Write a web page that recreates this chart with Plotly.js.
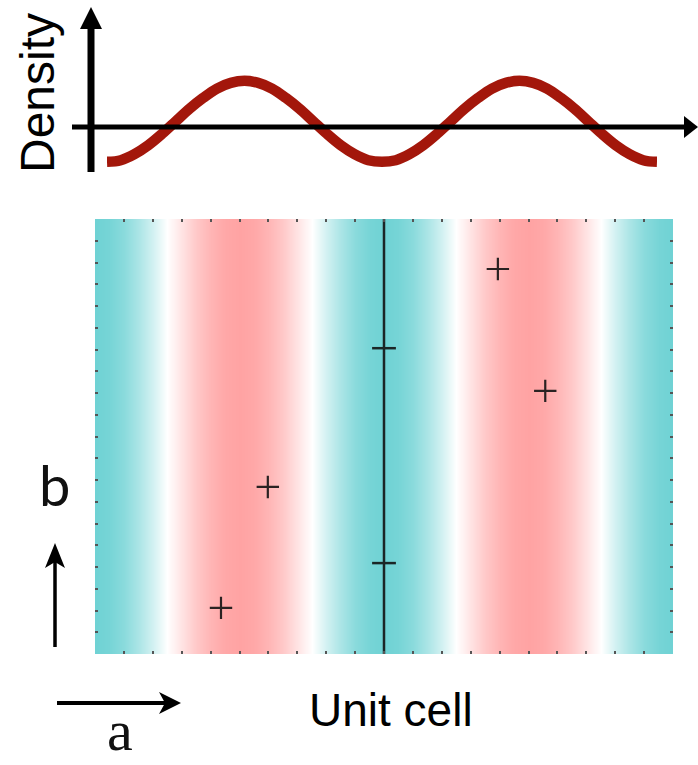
<!DOCTYPE html>
<html><head><meta charset="utf-8">
<script src="https://cdn.plot.ly/plotly-3.0.1.min.js"></script>
<style>html,body{margin:0;padding:0;background:#fff}#chart{width:698px;height:765px}</style>
</head><body><div id="chart"></div>
<script>
// ---------- data ----------
// fractional coordinate along a (0..1) for the unit-cell columns
const cellX = [0,0.025,0.05,0.075,0.1,0.125,0.15,0.175,0.2,0.225,0.25,0.275,0.3,0.325,0.35,0.375,0.4,0.425,0.45,0.475,0.5,
               0.525,0.55,0.575,0.6,0.625,0.65,0.675,0.7,0.725,0.75,0.775,0.8,0.825,0.85,0.875,0.9,0.925,0.95,0.975,1];
// relative electron density in each column (teal = low, pink = high)
const cellDensity = [-1,-0.95,-0.81,-0.59,-0.31,0,0.31,0.59,0.81,0.95,1,0.95,0.81,0.59,0.31,0,-0.31,-0.59,-0.81,-0.95,-1,
                     -0.95,-0.81,-0.59,-0.31,0,0.31,0.59,0.81,0.95,1,0.95,0.81,0.59,0.31,0,-0.31,-0.59,-0.81,-0.95,-1];
const cellB = [0, 1];
// density profile drawn above the cell
const profileX = cellX;
const profileDensity = [-0.86,-0.82,-0.67,-0.45,-0.17,0.14,0.45,0.72,0.95,1.09,1.14,1.09,0.95,0.72,0.45,0.14,-0.17,-0.45,-0.67,-0.82,-0.86,
                        -0.82,-0.67,-0.45,-0.17,0.14,0.45,0.72,0.95,1.09,1.14,1.09,0.95,0.72,0.45,0.14,-0.17,-0.45,-0.67,-0.82,-0.86];
// atom positions (+ markers), fractional a and b
const atomA = [0.218, 0.299, 0.697, 0.779];
const atomB = [0.106, 0.384, 0.885, 0.605];
// mirror line and its tick marks
const mirrorA = [0.5, 0.5];
const mirrorB = [0, 1];
const mirrorTickA = [0.5, 0.5];
const mirrorTickB = [0.209, 0.703];
// texts
const profileLabel = 'Density';
const cellLabel = 'Unit cell';
const aLabel = 'a';
const bLabel = 'b';

// ---------- layout helpers (pixel -> paper) ----------
const W = 698, H = 765;
const px = x => x / W;
const py = y => 1 - y / H;
const P = (x, y) => px(x).toFixed(5) + ',' + py(y).toFixed(5);

const traces = [
  {type: 'heatmap', x: cellX, y: cellB, z: [cellDensity, cellDensity],
   zmin: -1, zmax: 1, zsmooth: 'best', showscale: false, hoverinfo: 'skip',
   colorscale: [[0, '#6fd2d4'], [0.5, '#ffffff'], [1, '#ffa3a3']],
   xaxis: 'x', yaxis: 'y'},
  {type: 'scatter', mode: 'lines', x: mirrorA, y: mirrorB,
   line: {color: '#1b2626', width: 2.5}, hoverinfo: 'skip', xaxis: 'x', yaxis: 'y'},
  {type: 'scatter', mode: 'markers', x: mirrorTickA, y: mirrorTickB,
   marker: {symbol: 'line-ew', size: 17, line: {color: '#1b2626', width: 2.5}},
   hoverinfo: 'skip', xaxis: 'x', yaxis: 'y'},
  {type: 'scatter', mode: 'markers', x: atomA, y: atomB,
   marker: {symbol: 'cross-thin', size: 16, line: {color: '#2a2222', width: 2.2}},
   hoverinfo: 'skip', xaxis: 'x', yaxis: 'y'},
  {type: 'scatter', mode: 'lines', x: profileX, y: profileDensity,
   line: {color: '#a3170b', width: 10.5, shape: 'spline'},
   hoverinfo: 'skip', xaxis: 'x2', yaxis: 'y2'}
];

const cellAxis = {range: [0, 1], showgrid: false, zeroline: false, showticklabels: false,
  ticks: 'inside', tick0: 0, dtick: 0.05, ticklen: 3, tickwidth: 2, tickcolor: '#555',
  mirror: 'ticks', showline: false, fixedrange: true};

const layout = {
  width: W, height: H, margin: {l: 0, r: 0, t: 0, b: 0},
  paper_bgcolor: '#ffffff', plot_bgcolor: 'rgba(0,0,0,0)', showlegend: false,
  xaxis: Object.assign({}, cellAxis, {domain: [px(95), px(673)], anchor: 'y'}),
  yaxis: Object.assign({}, cellAxis, {domain: [py(654), py(219)], anchor: 'x'}),
  xaxis2: {domain: [px(107), px(657)], range: [0, 1], visible: false, anchor: 'y2', fixedrange: true},
  yaxis2: {domain: [py(190), 1], range: [(127 - 190) / 40.5, 127 / 40.5], visible: false, anchor: 'x2', fixedrange: true},
  shapes: [
    // density axes
    {type: 'line', xref: 'paper', yref: 'paper', x0: px(91), x1: px(91), y0: py(172), y1: py(26),
     line: {color: '#000', width: 7}, layer: 'above'},
    {type: 'path', xref: 'paper', yref: 'paper', path: 'M' + P(80, 29) + 'L' + P(91, 7) + 'L' + P(102, 29) + 'Z',
     fillcolor: '#000', line: {width: 0}, layer: 'above'},
    {type: 'line', xref: 'paper', yref: 'paper', x0: px(72), x1: px(688), y0: py(127), y1: py(127),
     line: {color: '#000', width: 5}, layer: 'above'},
    {type: 'path', xref: 'paper', yref: 'paper', path: 'M' + P(684, 116) + 'L' + P(698, 127) + 'L' + P(684, 138) + 'Z',
     fillcolor: '#000', line: {width: 0}, layer: 'above'},
    // b arrow
    {type: 'line', xref: 'paper', yref: 'paper', x0: px(55), x1: px(55), y0: py(647), y1: py(560),
     line: {color: '#000', width: 3.5}, layer: 'above'},
    {type: 'path', xref: 'paper', yref: 'paper', path: 'M' + P(55, 543) + 'L' + P(65, 568) + 'L' + P(55, 562) + 'L' + P(45, 568) + 'Z',
     fillcolor: '#000', line: {width: 0}, layer: 'above'},
    // a arrow
    {type: 'line', xref: 'paper', yref: 'paper', x0: px(57), x1: px(168), y0: py(703), y1: py(703),
     line: {color: '#000', width: 4}, layer: 'above'},
    {type: 'path', xref: 'paper', yref: 'paper', path: 'M' + P(181, 703) + 'L' + P(159, 692) + 'L' + P(165, 703) + 'L' + P(159, 714) + 'Z',
     fillcolor: '#000', line: {width: 0}, layer: 'above'}
  ],
  annotations: [
    {text: profileLabel, xref: 'paper', yref: 'paper', x: px(37), y: py(93), textangle: -90,
     showarrow: false, xanchor: 'center', yanchor: 'middle',
     font: {family: 'Liberation Sans, Arial, sans-serif', size: 48, color: '#000'}},
    {text: cellLabel, xref: 'paper', yref: 'paper', x: px(391), y: py(710),
     showarrow: false, xanchor: 'center', yanchor: 'middle',
     font: {family: 'Liberation Sans, Arial, sans-serif', size: 46, color: '#000'}},
    {text: bLabel, xref: 'paper', yref: 'paper', x: px(54), y: py(484),
     showarrow: false, xanchor: 'center', yanchor: 'middle',
     font: {family: 'Lato, sans-serif', size: 56, color: '#111'}},
    {text: aLabel, xref: 'paper', yref: 'paper', x: px(120), y: py(764),
     showarrow: false, xanchor: 'center', yanchor: 'bottom', borderpad: 0,
     font: {family: 'Liberation Serif, serif', size: 58, color: '#111'}}
  ]
};

Plotly.newPlot('chart', traces, layout, {displayModeBar: false, staticPlot: true});
</script>
</body></html>
